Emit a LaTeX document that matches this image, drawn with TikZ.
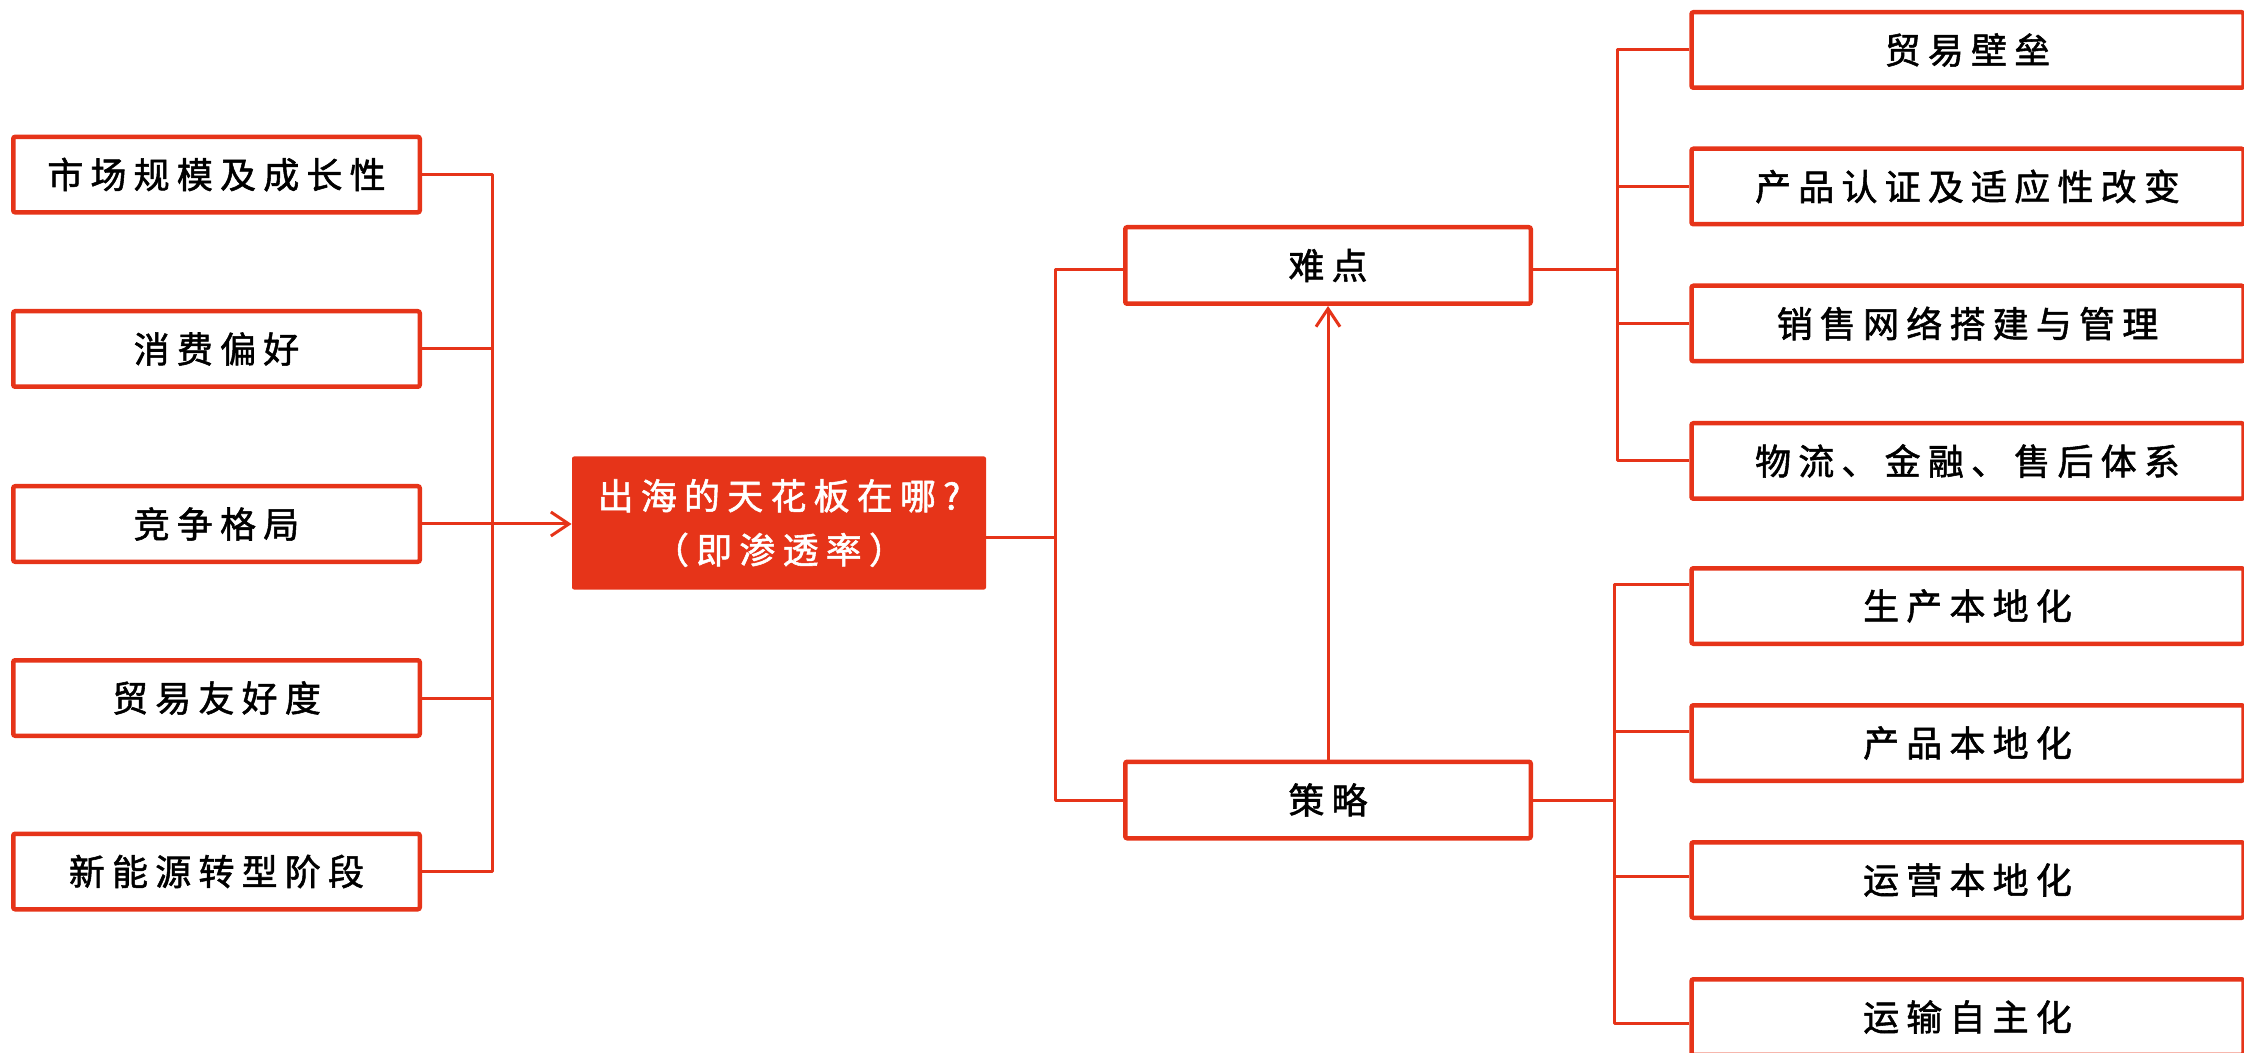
\documentclass[tikz,border=0pt]{standalone}
\usepackage{fontspec}
\newfontfamily\cjk[LetterSpace=20,FakeBold=1.5]{Noto Sans CJK SC}
\usetikzlibrary{arrows.meta}
\definecolor{redo}{RGB}{230,52,25}
\tikzset{
  box/.style={draw=redo, line width=2.25pt, fill=white, rounded corners=1pt,
    inner sep=0pt, text=black, font=\cjk\fontsize{18}{27}\selectfont},
  lbox/.style={box, minimum width=203.25pt, minimum height=37.75pt},
  mbox/.style={box, minimum width=202.75pt, minimum height=38.25pt},
  rbox/.style={box, minimum width=276pt, minimum height=37.75pt},
  qbox/.style={fill=redo, rounded corners=1pt, minimum width=207pt, minimum height=66.5pt,
    inner sep=0pt, text=white, align=center, font=\cjk\fontsize{18}{27}\selectfont},
  conn/.style={draw=redo, line width=1.5pt, line join=round},
  arr/.style={conn, -{Straight Barb[length=9pt,width=12pt,line width=1.5pt]}},
}
\begin{document}
\begin{tikzpicture}[x=0.5pt,y=-0.5pt]
\useasboundingbox (0,0) rectangle (2244,1053);
% left column
\node[lbox] (L1) at (216.5,174.6) {市场规模及成长性};
\node[lbox] (L2) at (216.5,349) {消费偏好};
\node[lbox] (L3) at (216.5,524) {竞争格局};
\node[lbox] (L4) at (216.5,698) {贸易友好度};
\node[lbox] (L5) at (216.5,871.5) {新能源转型阶段};
% centre
\node[qbox] (Q) at (779,523) {出海的天花板在哪?\\（即渗透率）};
% middle
\node[mbox] (ND) at (1328,265.5) {难点};
\node[mbox] (CL) at (1328,800) {策略};
% right upper
\node[rbox] (R1) at (1967.5,50) {贸易壁垒};
\node[rbox] (R2) at (1967.5,186.5) {产品认证及适应性改变};
\node[rbox] (R3) at (1967.5,323.5) {销售网络搭建与管理};
\node[rbox] (R4) at (1967.5,461) {物流、金融、售后体系};
% right lower
\node[rbox] (R5) at (1967.5,606) {生产本地化};
\node[rbox] (R6) at (1967.5,743) {产品本地化};
\node[rbox] (R7) at (1967.5,880) {运营本地化};
\node[rbox] (R8) at (1967.5,1017) {运输自主化};
% bus x positions
\coordinate (lbx) at (492,0);
\coordinate (mbx) at (1055,0);
\coordinate (rbx) at (1617,0);
\coordinate (sbx) at (1614,0);
% left bus
\draw[conn] (L1.east) -- (L1.east -| lbx) -- (L5.east -| lbx) -- (L5.east);
\draw[conn] (L2.east) -- (L2.east -| lbx);
\draw[conn] (L4.east) -- (L4.east -| lbx);
\draw[arr] (L3.east) -- (Q.west |- L3.east);
% centre to middle bus
\draw[conn] ([yshift=-7pt]Q.east) -- ([yshift=-7pt]Q.east -| mbx);
\draw[conn] ([yshift=-2pt]ND.west) -- ([yshift=-2pt]ND.west -| mbx) -- (CL.west -| mbx) -- (CL.west);
\draw[arr] (CL.north) -- (ND.south);
% upper right bus
\draw[conn] ([yshift=-2pt]ND.east) -- ([yshift=-2pt]ND.east -| rbx);
\draw[conn] (R1.west) -- (R1.west -| rbx) -- (R4.west -| rbx) -- (R4.west);
\draw[conn] (R2.west) -- (R2.west -| rbx);
\draw[conn] (R3.west) -- (R3.west -| rbx);
% lower right bus
\coordinate (s5) at ([yshift=11pt]R5.west);
\coordinate (s6) at ([yshift=6pt]R6.west);
\coordinate (s7) at ([yshift=2pt]R7.west);
\coordinate (s8) at ([yshift=-3pt]R8.west);
\draw[conn] (CL.east) -- (CL.east -| sbx);
\draw[conn] (s5) -- (s5 -| sbx) -- (s8 -| sbx) -- (s8);
\draw[conn] (s6) -- (s6 -| sbx);
\draw[conn] (s7) -- (s7 -| sbx);
\end{tikzpicture}
\end{document}
